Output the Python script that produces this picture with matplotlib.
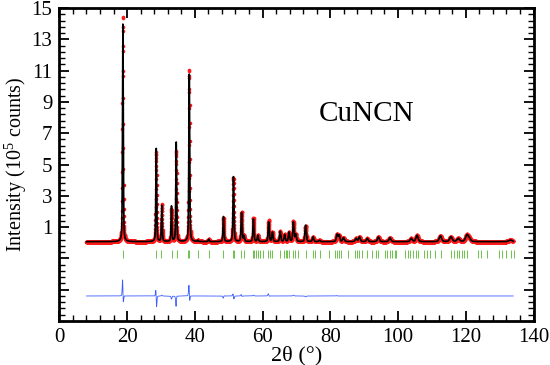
import numpy as np
import matplotlib
matplotlib.use("Agg")
import matplotlib.pyplot as plt
from matplotlib.ticker import MultipleLocator, FixedLocator

plt.rcParams['font.family'] = ['Liberation Serif', 'DejaVu Serif']
plt.rcParams['mathtext.fontset'] = 'custom'
plt.rcParams['mathtext.rm'] = 'Liberation Serif'

# ---- data (units of 10^5 counts, 2theta in degrees) ----
peak_pos = [18.75, 28.6, 30.25, 33.1, 34.5, 38.35, 40.9, 44.1, 48.45, 51.4,
            53.8, 54.5, 57.3, 58.6, 61.8, 62.9, 65.2, 66.5, 67.8, 69.1,
            69.8, 72.7, 74.9, 76.8, 82.0, 82.6, 83.9, 87.6, 88.6, 90.9,
            94.2, 97.6, 103.9, 105.6, 112.5, 115.6, 117.8, 120.3, 121.0, 133.2]
calc_height = [13.9, 5.95, 2.3, 2.25, 6.35, 10.7, 0.08, 0.15, 1.6, 4.15,
               1.85, 0.35, 1.45, 0.4, 1.25, 0.6, 0.65, 0.45, 0.6, 1.25,
               0.45, 1.05, 0.3, 0.08, 0.45, 0.4, 0.25, 0.2, 0.3, 0.2,
               0.3, 0.25, 0.2, 0.4, 0.37, 0.3, 0.2, 0.4, 0.2, 0.1]
obs_height = [14.4, 5.7, 2.35, 2.05, 5.8, 11.0, 0.08, 0.15, 1.5, 4.1,
              1.9, 0.35, 1.5, 0.4, 1.35, 0.6, 0.65, 0.45, 0.6, 1.3,
              0.45, 1.0, 0.3, 0.08, 0.47, 0.4, 0.25, 0.2, 0.3, 0.2,
              0.3, 0.25, 0.2, 0.4, 0.37, 0.3, 0.2, 0.4, 0.2, 0.1]
obs_shift = [-0.01, -0.02, 0.0, 0.0, 0.008, -0.01, 0.0, 0.0, 0.01, -0.01,
             -0.008, 0.0, 0.0, 0.0, -0.015, 0.0, 0.0, 0.0, 0.0, 0.0,
             0.0, 0.0, 0.0, 0.0, -0.01, 0.0, 0.0, 0.0, 0.0, 0.0,
             0.0, 0.0, 0.0, 0.0, 0.0, 0.0, 0.0, 0.0, 0.0, 0.0]
peak_fwhm = [0.28, 0.3, 0.3, 0.3, 0.3, 0.31, 0.32, 0.33, 0.34, 0.35,
             0.36, 0.36, 0.37, 0.38, 0.39, 0.4, 0.41, 0.42, 0.42, 0.43,
             0.44, 0.45, 0.47, 0.48, 0.52, 0.52, 0.54, 0.57, 0.58, 0.6,
             0.63, 0.66, 0.72, 0.74, 0.82, 0.86, 0.9, 0.94, 0.95, 1.2]
background = 0.07
two_theta_start, two_theta_end, two_theta_step = 8.0, 134.0, 0.025

reflections = [18.8, 28.6, 30.0, 33.2, 34.6, 38.0, 38.3, 40.8, 44.2, 48.3,
               51.3, 51.7, 53.7, 54.4, 57.1, 57.4, 58.1, 58.7, 59.2, 60.0,
               61.7, 62.3, 62.9, 65.2, 66.4, 66.8, 67.2, 67.8, 69.0, 69.5,
               70.5, 72.9, 74.9, 75.6, 77.1, 79.5, 81.5, 81.9, 82.5, 83.2,
               85.1, 87.3, 87.8, 88.4, 89.3, 90.7, 92.2, 93.5, 94.2, 96.1,
               96.8, 97.5, 98.3, 99.1, 99.5, 102.0, 102.8, 103.6, 104.4, 105.2,
               105.9, 107.8, 108.6, 109.4, 110.8, 112.7, 115.6, 116.4, 117.3, 118.0,
               118.8, 119.6, 120.5, 123.5, 124.6, 126.4, 129.8, 130.6, 132.0, 133.3,
               134.2]
diff_offset = -3.4


def profile(x, pos, height, fwhm, shift):
    y = np.full_like(x, background)
    for p, h, w, s in zip(pos, height, fwhm, shift):
        g = np.exp(-4 * np.log(2) * ((x - p - s) / w) ** 2)
        l = 1.0 / (1.0 + 4 * ((x - p - s) / w) ** 2)
        y += h * (0.6 * g + 0.4 * l)
    return y


x = np.arange(two_theta_start, two_theta_end + 1e-9, two_theta_step)
zeros = [0.0] * len(peak_pos)
y_calc = profile(x, peak_pos, calc_height, peak_fwhm, zeros)
y_obs = profile(x, peak_pos, obs_height, peak_fwhm, obs_shift)
y_diff = y_obs - y_calc + diff_offset

fig = plt.figure(figsize=(5.5, 3.65), dpi=100)
ax = fig.add_axes([0.108, 0.1205, 0.862, 0.8575])

ax.plot(x, y_obs, linestyle='none', marker='o', markersize=2.6,
        markeredgewidth=0, color='#ff1a1a', zorder=2)
ax.plot(x, y_calc, color='black', lw=1.2, zorder=3)
ax.vlines(reflections, -1.0, -0.45, color='#6cc24a', lw=0.7, zorder=2)
ax.plot(x, y_diff, color='#3a5cff', lw=0.6, zorder=2)

ax.text(76.6, 7.75, 'CuNCN', fontsize=21, ha='left', va='baseline')

ax.set_xlim(0, 140)
ax.set_ylim(-5, 15)
ax.xaxis.set_major_locator(MultipleLocator(20))
ax.xaxis.set_minor_locator(MultipleLocator(4))
ax.yaxis.set_major_locator(FixedLocator([-3, -1, 1, 3, 5, 7, 9, 11, 13, 15]))
ax.yaxis.set_minor_locator(FixedLocator(np.arange(-5, 15.01, 0.4)))
ax.set_yticklabels(['', '', '1', '3', '5', '7', '9', '11', '13', '15'])

ax.tick_params(which='both', direction='in', top=True, right=True,
               labelsize=15, width=1.3, pad=5)
ax.tick_params(which='major', length=7.5)
ax.tick_params(which='minor', length=4, width=1.0)
for sp in ax.spines.values():
    sp.set_linewidth(2.0)

ax.set_xlabel('2θ (°)', fontsize=16, labelpad=-1)
ax.set_ylabel('Intensity (10$^5$ counts)', fontsize=14.5, labelpad=1.5)

fig.savefig('out.png', dpi=100)
